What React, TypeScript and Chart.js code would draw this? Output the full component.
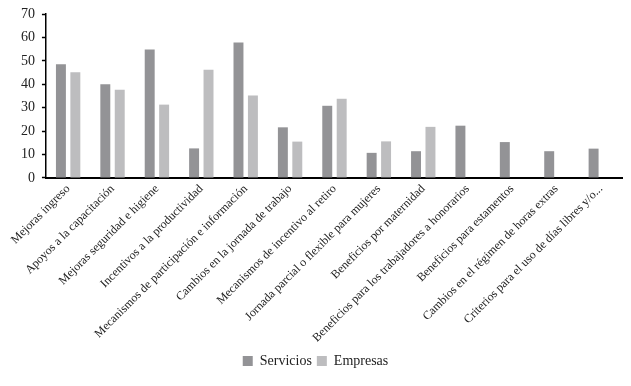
import React, { useEffect, useRef } from "react";
import { Chart, registerables } from "chart.js";

Chart.register(...registerables);

const categories = [
  "Mejoras ingreso",
  "Apoyos a la capacitación",
  "Mejoras seguridad e higiene",
  "Incentivos a la productividad",
  "Mecanismos de participación e información",
  "Cambios en la jornada de trabajo",
  "Mecanismos de incentivo al retiro",
  "Jornada parcial o flexible para mujeres",
  "Beneficios por maternidad",
  "Beneficios para los trabajadores a honorarios",
  "Beneficios para estamentos",
  "Cambios en el régimen de horas extras",
  "Criterios para el uso de días libres y/o...",
];

const servicios = [48.5, 40, 54.8, 12.6, 57.8, 21.6, 30.8, 10.7, 11.4, 22.3, 15.3, 11.4, 12.5];
const empresas = [45.1, 37.6, 31.3, 46.2, 35.2, 15.5, 33.8, 15.6, 21.8, null, null, null, null];

const yTicks = [0, 10, 20, 30, 40, 50, 60, 70];

export default function App() {
  const ref = useRef<HTMLCanvasElement | null>(null);
  useEffect(() => {
    if (!ref.current) return;
    const font = "'Liberation Serif', serif";
    const chart = new Chart(ref.current, {
      type: "bar",
      data: {
        labels: categories,
        datasets: [
          {
            label: "Servicios",
            data: servicios,
            backgroundColor: "#939396",
            categoryPercentage: 0.65,
            barPercentage: 0.69,
          },
          {
            label: "Empresas",
            data: empresas,
            backgroundColor: "#bdbdbf",
            categoryPercentage: 0.65,
            barPercentage: 0.69,
          },
        ],
      },
      options: {
        animation: false,
        responsive: true,
        maintainAspectRatio: false,
        layout: { padding: { top: 0, right: 0, left: 0, bottom: 0 } },
        plugins: {
          legend: {
            position: "bottom",
            labels: {
              boxWidth: 10,
              boxHeight: 10,
              padding: 5,
              color: "#222",
              font: { family: font, size: 14 },
            },
          },
          tooltip: { enabled: false },
        },
        scales: {
          x: {
            grid: { display: false, drawTicks: false },
            border: { display: true, color: "#000", width: 2 },
            ticks: {
              minRotation: 45,
              maxRotation: 45,
              autoSkip: false,
              padding: 4,
              color: "#222",
              font: { family: font, size: 12 },
            },
          },
          y: {
            min: 0,
            max: 70,
            afterBuildTicks: (axis: any) => {
              axis.ticks = yTicks.map((v) => ({ value: v }));
            },
            afterFit: (axis: any) => {
              axis.paddingTop = 6;
            },
            grid: {
              display: true,
              drawOnChartArea: false,
              drawTicks: true,
              tickLength: 4,
              tickWidth: 1.5,
              tickColor: "#000",
              color: "#000",
            },
            border: { display: true, color: "#000", width: 1.5 },
            ticks: {
              padding: 7,
              color: "#222",
              font: { family: font, size: 14 },
            },
          },
        },
      },
    });
    return () => chart.destroy();
  }, []);
  return (
    <div style={{ position: "relative", width: 615, height: 370 }}>
      <canvas ref={ref} />
    </div>
  );
}
